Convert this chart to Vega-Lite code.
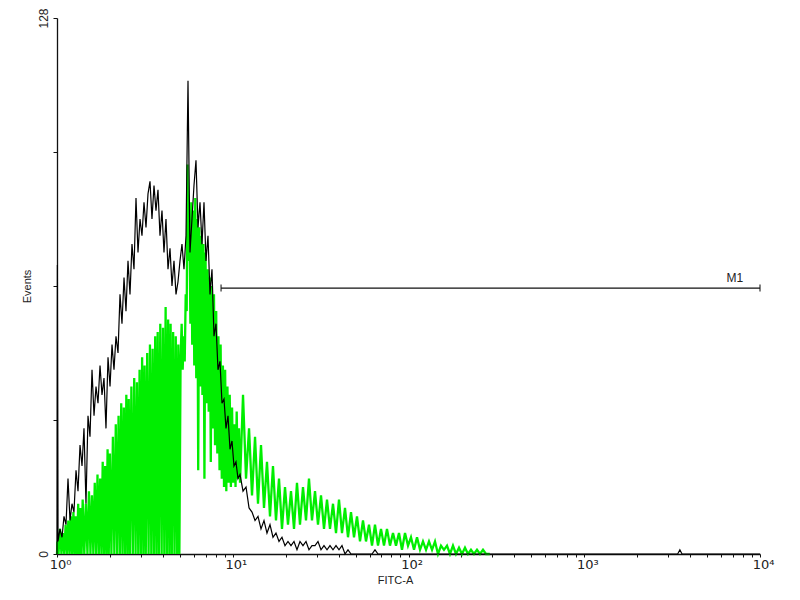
{
  "$schema": "https://vega.github.io/schema/vega-lite/v6.json",
  "width": 703,
  "height": 536,
  "autosize": "none",
  "padding": {"left": 57, "top": 18, "right": 40, "bottom": 46},
  "background": "white",
  "config": {"view": {"stroke": null}},
  "datasets": {
    "green": [
      {"x": 1.0, "y": 0}, {"x": 1.005, "y": 3}, {"x": 1.02, "y": 0}, {"x": 1.04, "y": 6}, {"x": 1.06, "y": 0},
      {"x": 1.08, "y": 5}, {"x": 1.10, "y": 0}, {"x": 1.12, "y": 7}, {"x": 1.14, "y": 0}, {"x": 1.16, "y": 8},
      {"x": 1.18, "y": 0}, {"x": 1.20, "y": 9}, {"x": 1.22, "y": 0}, {"x": 1.24, "y": 10}, {"x": 1.26, "y": 0},
      {"x": 1.28, "y": 9}, {"x": 1.30, "y": 0}, {"x": 1.32, "y": 12}, {"x": 1.34, "y": 0}, {"x": 1.36, "y": 11},
      {"x": 1.38, "y": 0}, {"x": 1.40, "y": 13}, {"x": 1.43, "y": 0}, {"x": 1.46, "y": 12}, {"x": 1.49, "y": 0},
      {"x": 1.52, "y": 15}, {"x": 1.55, "y": 0}, {"x": 1.58, "y": 14}, {"x": 1.61, "y": 0}, {"x": 1.64, "y": 17},
      {"x": 1.67, "y": 0}, {"x": 1.70, "y": 19}, {"x": 1.73, "y": 0}, {"x": 1.76, "y": 18}, {"x": 1.79, "y": 0},
      {"x": 1.82, "y": 22}, {"x": 1.85, "y": 0}, {"x": 1.88, "y": 21}, {"x": 1.91, "y": 0}, {"x": 1.94, "y": 25},
      {"x": 1.97, "y": 0}, {"x": 2.00, "y": 24}, {"x": 2.04, "y": 0}, {"x": 2.08, "y": 28}, {"x": 2.12, "y": 0},
      {"x": 2.16, "y": 31}, {"x": 2.20, "y": 0}, {"x": 2.24, "y": 33}, {"x": 2.28, "y": 0}, {"x": 2.32, "y": 36},
      {"x": 2.36, "y": 0}, {"x": 2.40, "y": 35}, {"x": 2.44, "y": 0}, {"x": 2.48, "y": 38}, {"x": 2.52, "y": 0},
      {"x": 2.56, "y": 37}, {"x": 2.60, "y": 0}, {"x": 2.65, "y": 40}, {"x": 2.70, "y": 0}, {"x": 2.75, "y": 42},
      {"x": 2.80, "y": 0}, {"x": 2.85, "y": 41}, {"x": 2.90, "y": 0}, {"x": 2.95, "y": 44}, {"x": 3.00, "y": 0},
      {"x": 3.05, "y": 47}, {"x": 3.10, "y": 0}, {"x": 3.15, "y": 45}, {"x": 3.20, "y": 0}, {"x": 3.26, "y": 48},
      {"x": 3.32, "y": 0}, {"x": 3.38, "y": 50}, {"x": 3.44, "y": 0}, {"x": 3.50, "y": 49}, {"x": 3.56, "y": 0},
      {"x": 3.62, "y": 52}, {"x": 3.68, "y": 0}, {"x": 3.74, "y": 53}, {"x": 3.80, "y": 0}, {"x": 3.87, "y": 55},
      {"x": 3.94, "y": 0}, {"x": 4.01, "y": 54}, {"x": 4.08, "y": 0}, {"x": 4.15, "y": 59}, {"x": 4.22, "y": 0},
      {"x": 4.29, "y": 56}, {"x": 4.36, "y": 0}, {"x": 4.43, "y": 55}, {"x": 4.50, "y": 0}, {"x": 4.58, "y": 53},
      {"x": 4.66, "y": 0}, {"x": 4.74, "y": 52}, {"x": 4.82, "y": 0}, {"x": 4.90, "y": 50}, {"x": 4.97, "y": 0},
      {"x": 5.05, "y": 47}, {"x": 5.12, "y": 55}, {"x": 5.19, "y": 44}, {"x": 5.26, "y": 52}, {"x": 5.33, "y": 46},
      {"x": 5.40, "y": 62}, {"x": 5.47, "y": 58}, {"x": 5.53, "y": 93}, {"x": 5.60, "y": 70}, {"x": 5.67, "y": 80},
      {"x": 5.74, "y": 55}, {"x": 5.81, "y": 84}, {"x": 5.88, "y": 50}, {"x": 5.96, "y": 82}, {"x": 6.04, "y": 45},
      {"x": 6.12, "y": 85}, {"x": 6.20, "y": 42}, {"x": 6.28, "y": 80}, {"x": 6.36, "y": 20}, {"x": 6.45, "y": 78},
      {"x": 6.54, "y": 40}, {"x": 6.63, "y": 76}, {"x": 6.72, "y": 38}, {"x": 6.81, "y": 74}, {"x": 6.90, "y": 18},
      {"x": 7.00, "y": 72}, {"x": 7.10, "y": 36}, {"x": 7.20, "y": 68}, {"x": 7.30, "y": 34}, {"x": 7.40, "y": 66},
      {"x": 7.50, "y": 22}, {"x": 7.60, "y": 64}, {"x": 7.71, "y": 30}, {"x": 7.82, "y": 62}, {"x": 7.93, "y": 26},
      {"x": 8.05, "y": 58}, {"x": 8.17, "y": 24}, {"x": 8.29, "y": 52}, {"x": 8.41, "y": 20}, {"x": 8.53, "y": 50},
      {"x": 8.66, "y": 18}, {"x": 8.79, "y": 45}, {"x": 8.92, "y": 16}, {"x": 9.05, "y": 44}, {"x": 9.19, "y": 15},
      {"x": 9.33, "y": 40}, {"x": 9.47, "y": 17}, {"x": 9.61, "y": 38}, {"x": 9.76, "y": 16}, {"x": 9.91, "y": 35},
      {"x": 10.06, "y": 17}, {"x": 10.21, "y": 31}, {"x": 10.37, "y": 16}, {"x": 10.53, "y": 34}, {"x": 10.69, "y": 18},
      {"x": 10.85, "y": 30}, {"x": 11.0, "y": 17}, {"x": 11.44, "y": 38}, {"x": 11.90, "y": 18}, {"x": 12.38, "y": 30},
      {"x": 12.87, "y": 14}, {"x": 13.39, "y": 28}, {"x": 13.92, "y": 12}, {"x": 14.48, "y": 26}, {"x": 15.06, "y": 11},
      {"x": 15.66, "y": 22}, {"x": 16.29, "y": 9}, {"x": 16.94, "y": 21}, {"x": 17.62, "y": 8}, {"x": 18.33, "y": 18},
      {"x": 19.06, "y": 6}, {"x": 19.83, "y": 16}, {"x": 20.62, "y": 7}, {"x": 21.45, "y": 15}, {"x": 22.31, "y": 6},
      {"x": 23.20, "y": 17}, {"x": 24.13, "y": 7}, {"x": 25.10, "y": 16}, {"x": 26.11, "y": 8}, {"x": 27.15, "y": 18},
      {"x": 28.24, "y": 8}, {"x": 29.38, "y": 15}, {"x": 30.55, "y": 7}, {"x": 31.78, "y": 14}, {"x": 33.05, "y": 6},
      {"x": 34.38, "y": 13}, {"x": 35.75, "y": 6}, {"x": 37.19, "y": 12}, {"x": 38.68, "y": 5}, {"x": 40.23, "y": 13},
      {"x": 41.84, "y": 5}, {"x": 43.52, "y": 11}, {"x": 45.26, "y": 4}, {"x": 47.08, "y": 10}, {"x": 48.97, "y": 4},
      {"x": 50.93, "y": 9}, {"x": 52.97, "y": 3}, {"x": 55.09, "y": 8}, {"x": 57.30, "y": 3}, {"x": 59.60, "y": 7},
      {"x": 61.99, "y": 2}, {"x": 64.47, "y": 7}, {"x": 67.06, "y": 2}, {"x": 69.74, "y": 6}, {"x": 72.54, "y": 2},
      {"x": 75.44, "y": 6}, {"x": 78.46, "y": 2}, {"x": 81.61, "y": 5}, {"x": 84.88, "y": 2}, {"x": 88.28, "y": 5},
      {"x": 91.83, "y": 1}, {"x": 95.52, "y": 5}, {"x": 99.35, "y": 2}, {"x": 103.3, "y": 4}, {"x": 107.5, "y": 1},
      {"x": 111.8, "y": 4}, {"x": 116.3, "y": 1}, {"x": 120.9, "y": 3}, {"x": 125.8, "y": 1}, {"x": 130.8, "y": 3},
      {"x": 136.1, "y": 1}, {"x": 141.5, "y": 3}, {"x": 147.2, "y": 0}, {"x": 153.1, "y": 2}, {"x": 159.2, "y": 1},
      {"x": 165.6, "y": 2}, {"x": 172.2, "y": 0}, {"x": 179.1, "y": 2}, {"x": 186.3, "y": 0}, {"x": 193.8, "y": 1.5},
      {"x": 201.5, "y": 0}, {"x": 209.6, "y": 1.5}, {"x": 218.0, "y": 0}, {"x": 226.7, "y": 1}, {"x": 235.8, "y": 0},
      {"x": 245.3, "y": 1}, {"x": 255.1, "y": 0}, {"x": 265.4, "y": 1}, {"x": 276.0, "y": 0}, {"x": 290.0, "y": 0}
    ],
    "black": [
      {"x": 1.0, "y": 0}, {"x": 1.005, "y": 69}, {"x": 1.013, "y": 3}, {"x": 1.040, "y": 6}, {"x": 1.068, "y": 4},
      {"x": 1.096, "y": 9}, {"x": 1.125, "y": 7}, {"x": 1.155, "y": 18}, {"x": 1.186, "y": 8}, {"x": 1.217, "y": 12},
      {"x": 1.249, "y": 10}, {"x": 1.283, "y": 20}, {"x": 1.317, "y": 15}, {"x": 1.352, "y": 26}, {"x": 1.388, "y": 21},
      {"x": 1.424, "y": 30}, {"x": 1.462, "y": 12}, {"x": 1.501, "y": 33}, {"x": 1.541, "y": 28}, {"x": 1.582, "y": 44},
      {"x": 1.624, "y": 33}, {"x": 1.667, "y": 40}, {"x": 1.711, "y": 36}, {"x": 1.757, "y": 45}, {"x": 1.803, "y": 38},
      {"x": 1.851, "y": 42}, {"x": 1.900, "y": 30}, {"x": 1.951, "y": 47}, {"x": 2.003, "y": 40}, {"x": 2.056, "y": 50},
      {"x": 2.110, "y": 44}, {"x": 2.166, "y": 52}, {"x": 2.224, "y": 48}, {"x": 2.283, "y": 62}, {"x": 2.343, "y": 55},
      {"x": 2.406, "y": 66}, {"x": 2.469, "y": 58}, {"x": 2.535, "y": 70}, {"x": 2.602, "y": 62}, {"x": 2.671, "y": 74},
      {"x": 2.742, "y": 68}, {"x": 2.815, "y": 85}, {"x": 2.890, "y": 72}, {"x": 2.967, "y": 80}, {"x": 3.045, "y": 76},
      {"x": 3.126, "y": 84}, {"x": 3.209, "y": 78}, {"x": 3.294, "y": 86}, {"x": 3.382, "y": 89}, {"x": 3.471, "y": 80},
      {"x": 3.564, "y": 88}, {"x": 3.658, "y": 82}, {"x": 3.755, "y": 87}, {"x": 3.855, "y": 76}, {"x": 3.957, "y": 82},
      {"x": 4.062, "y": 72}, {"x": 4.170, "y": 80}, {"x": 4.281, "y": 68}, {"x": 4.395, "y": 73}, {"x": 4.511, "y": 64},
      {"x": 4.631, "y": 70}, {"x": 4.754, "y": 62}, {"x": 4.880, "y": 65}, {"x": 5.010, "y": 70}, {"x": 5.142, "y": 74},
      {"x": 5.279, "y": 68}, {"x": 5.420, "y": 76}, {"x": 5.564, "y": 113}, {"x": 5.711, "y": 72}, {"x": 5.862, "y": 80},
      {"x": 6.018, "y": 88}, {"x": 6.178, "y": 94}, {"x": 6.342, "y": 78}, {"x": 6.511, "y": 84}, {"x": 6.683, "y": 74},
      {"x": 6.861, "y": 84}, {"x": 7.043, "y": 70}, {"x": 7.230, "y": 76}, {"x": 7.422, "y": 62}, {"x": 7.618, "y": 68},
      {"x": 7.821, "y": 52}, {"x": 8.028, "y": 55}, {"x": 8.241, "y": 44}, {"x": 8.460, "y": 46}, {"x": 8.685, "y": 36},
      {"x": 8.916, "y": 37}, {"x": 9.153, "y": 30}, {"x": 9.397, "y": 33}, {"x": 9.647, "y": 25}, {"x": 9.901, "y": 27},
      {"x": 10.16, "y": 21}, {"x": 10.43, "y": 22}, {"x": 10.71, "y": 18}, {"x": 11.00, "y": 19}, {"x": 11.44, "y": 15},
      {"x": 11.90, "y": 16}, {"x": 12.38, "y": 11}, {"x": 12.87, "y": 10}, {"x": 13.39, "y": 8}, {"x": 13.92, "y": 9},
      {"x": 14.48, "y": 6}, {"x": 15.06, "y": 8}, {"x": 15.66, "y": 5}, {"x": 16.29, "y": 7}, {"x": 16.94, "y": 4},
      {"x": 17.62, "y": 5}, {"x": 18.33, "y": 3}, {"x": 19.06, "y": 4}, {"x": 19.83, "y": 2}, {"x": 20.62, "y": 3},
      {"x": 21.45, "y": 2}, {"x": 22.31, "y": 3}, {"x": 23.20, "y": 1}, {"x": 24.13, "y": 3}, {"x": 25.10, "y": 2},
      {"x": 26.11, "y": 3}, {"x": 27.15, "y": 1}, {"x": 28.24, "y": 2}, {"x": 29.38, "y": 2}, {"x": 30.55, "y": 3},
      {"x": 31.78, "y": 1}, {"x": 33.05, "y": 2}, {"x": 34.38, "y": 1}, {"x": 35.75, "y": 2}, {"x": 37.19, "y": 1},
      {"x": 38.68, "y": 2}, {"x": 40.23, "y": 1}, {"x": 41.84, "y": 2}, {"x": 43.52, "y": 0}, {"x": 45.26, "y": 1},
      {"x": 47.08, "y": 0}, {"x": 61.99, "y": 0}, {"x": 64.47, "y": 1}, {"x": 67.06, "y": 0}, {"x": 3400, "y": 0},
      {"x": 3500, "y": 1}, {"x": 3600, "y": 0}, {"x": 10000, "y": 0}
    ],
    "marker": [{"x": 8.58, "x2": 10000, "y": 63.5}],
    "markerEnds": [{"x": 8.58, "y": 63.5}, {"x": 10000, "y": 63.5}],
    "markerLabel": [{"x": 7200, "y": 63.5, "label": "M1"}]
  },
  "encoding": {
    "x": {
      "field": "x",
      "type": "quantitative",
      "scale": {"type": "log", "domain": [1, 10000]},
      "axis": {
        "title": "FITC-A",
        "values": [1, 2, 3, 4, 5, 6, 7, 8, 9, 10, 20, 30, 40, 50, 60, 70, 80, 90, 100, 200, 300, 400, 500, 600, 700, 800, 900, 1000, 2000, 3000, 4000, 5000, 6000, 7000, 8000, 9000, 10000],
        "labelExpr": "datum.value == 1 ? '10⁰' : datum.value == 10 ? '10¹' : datum.value == 100 ? '10²' : datum.value == 1000 ? '10³' : datum.value == 10000 ? '10⁴' : ''",
        "labelOverlap": false,
        "labelFlush": false,
        "labelBound": false,
        "grid": false,
        "tickSize": 3,
        "tickColor": "#111",
        "domainColor": "#111",
        "domainWidth": 1.3,
        "labelFont": "DejaVu Sans",
        "labelFontSize": 13,
        "labelColor": "#222",
        "labelOffset": 3,
        "labelPadding": 1,
        "titleFont": "Liberation Sans",
        "titleFontSize": 11,
        "titleFontWeight": "normal",
        "titleColor": "#222",
        "titlePadding": 3,
        "titleX": 338
      }
    },
    "y": {
      "field": "y",
      "type": "quantitative",
      "scale": {"domain": [0, 128], "nice": false},
      "axis": {
        "title": "Events",
        "values": [0, 32, 64, 96, 128],
        "labelExpr": "datum.value == 0 || datum.value == 128 ? datum.label : ''",
        "grid": false,
        "tickSize": 4,
        "tickColor": "#111",
        "domainColor": "#111",
        "domainWidth": 1.3,
        "labelAngle": 270,
        "labelAlign": "center",
        "labelBaseline": "bottom",
        "labelFont": "Liberation Sans",
        "labelFontSize": 12,
        "labelColor": "#222",
        "labelPadding": 3,
        "labelFlush": false,
        "titleFont": "Liberation Sans",
        "titleFontSize": 11,
        "titleFontWeight": "normal",
        "titleColor": "#222",
        "titlePadding": 5
      }
    }
  },
  "layer": [
    {
      "data": {"name": "green"},
      "mark": {"type": "line", "color": "#00ee00", "strokeWidth": 2.3}
    },
    {
      "data": {"name": "black"},
      "mark": {"type": "line", "color": "#000000", "strokeWidth": 1.2}
    },
    {
      "data": {"name": "marker"},
      "mark": {"type": "rule", "color": "#111", "strokeWidth": 1.2},
      "encoding": {"x2": {"field": "x2"}}
    },
    {
      "data": {"name": "markerEnds"},
      "mark": {"type": "tick", "orient": "vertical", "color": "#111", "size": 7, "thickness": 1.5}
    },
    {
      "data": {"name": "markerLabel"},
      "mark": {"type": "text", "font": "Liberation Sans", "fontSize": 12, "baseline": "bottom", "dy": -3, "color": "#222"},
      "encoding": {"text": {"field": "label"}}
    }
  ]
}
